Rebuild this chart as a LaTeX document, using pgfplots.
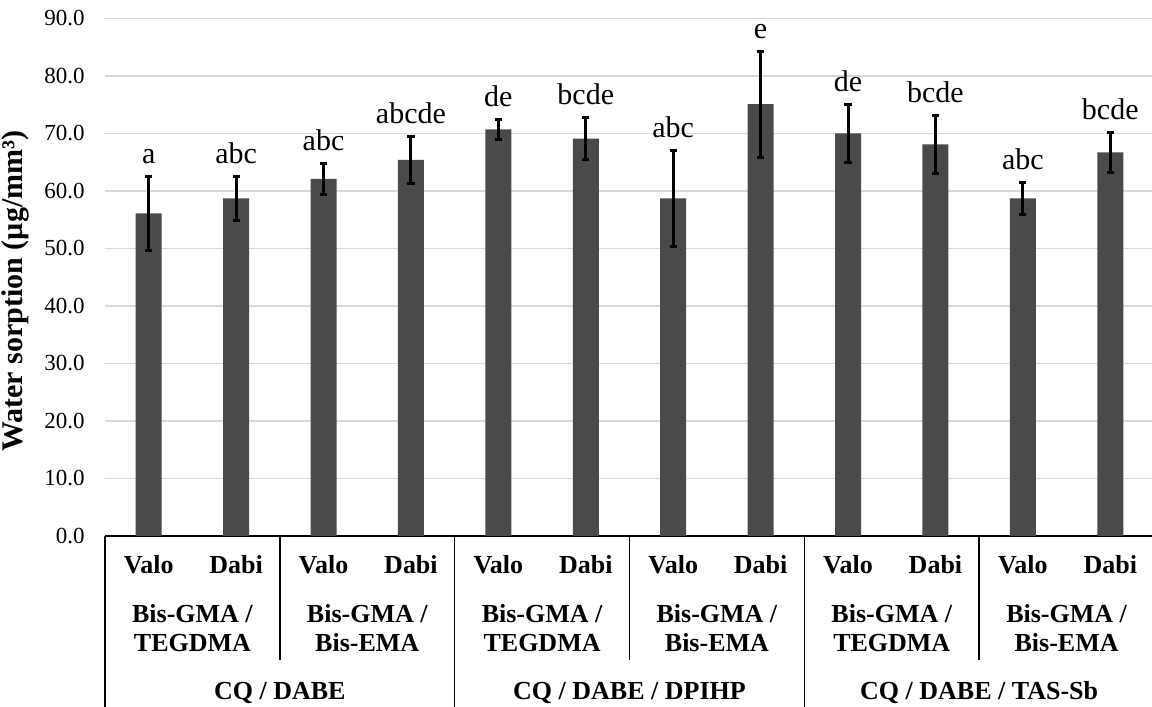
\documentclass[border=0pt]{standalone}
\usepackage{fontspec}
\setmainfont{Liberation Serif}
\usepackage{pgfplots}
\usepackage{pgfplotstable}
\pgfplotsset{compat=1.18}

\definecolor{barcol}{RGB}{74,74,74}
\definecolor{gridcol}{RGB}{217,217,217}

% mean, SD and letter group per bar
\pgfplotstableread{
x  y     err  lab
0  56.1  6.4  a
1  58.7  3.9  abc
2  62.1  2.7  abc
3  65.4  4.1  abcde
4  70.7  1.7  de
5  69.1  3.7  bcde
6  58.7  8.4  abc
7  75.1  9.2  e
8  70.0  5.1  de
9  68.1  5.0  bcde
10 58.7  2.8  abc
11 66.7  3.5  bcde
}\sorption

\begin{document}
\begin{tikzpicture}
\begin{axis}[
    name=ax,
    scale only axis,
    width=524.5pt, height=258.75pt,
    xmin=-0.5, xmax=11.5,
    ymin=0, ymax=90,
    ytick={0,10,...,90},
    xtick={0,...,11},
    xticklabels={Valo,Dabi,Valo,Dabi,Valo,Dabi,Valo,Dabi,Valo,Dabi,Valo,Dabi},
    xticklabel style={font=\fontsize{13}{15}\selectfont\bfseries, anchor=base, yshift=-19pt, inner sep=0pt},
    yticklabel style={font=\fontsize{11.5}{13}\selectfont, anchor=east, xshift=-10pt, inner sep=0pt,
        /pgf/number format/.cd, fixed, fixed zerofill, precision=1, assume math mode=true},
    major tick length=0pt,
    axis x line*=bottom,
    axis y line*=left,
    y axis line style={draw=none},
    x axis line style={black, line width=0.75pt},
    ymajorgrids,
    grid style={gridcol, line width=0.75pt},
    ylabel={Water sorption (µg/mm³)},
    every axis y label/.style={at={(axis description cs:-0.0858,0.473)}, rotate=90, anchor=center,
        font=\fontsize{15}{17}\selectfont\bfseries},
    clip=false,
]
\addplot[ybar, bar width=13pt, fill=barcol, draw=none,
    error bars/.cd, y dir=both, y explicit,
    error bar style={black, line width=1.5pt},
    error mark options={rotate=90, mark size=1.8pt, line width=1.5pt, black}]
    table[x=x, y=y, y error=err] {\sorption};

\addplot[draw=none, mark=none, nodes near coords, point meta=explicit symbolic,
    every node near coord/.append style={font=\fontsize{15}{17}\selectfont, anchor=base, yshift=6.5pt, inner sep=0pt}]
    table[x=x, y expr=\thisrow{y}+\thisrow{err}, meta=lab] {\sorption};

% separators of the category table
\draw[line width=0.75pt] (axis cs:1.5,0) -- ([yshift=-62pt]axis cs:1.5,0);
\draw[line width=0.75pt] (axis cs:5.5,0) -- ([yshift=-62pt]axis cs:5.5,0);
\draw[line width=0.75pt] (axis cs:9.5,0) -- ([yshift=-62pt]axis cs:9.5,0);
\draw[line width=0.75pt] (axis cs:-0.5,0) -- ([yshift=-85.5pt]axis cs:-0.5,0);
\draw[line width=0.75pt] (axis cs:3.5,0) -- ([yshift=-85.5pt]axis cs:3.5,0);
\draw[line width=0.75pt] (axis cs:7.5,0) -- ([yshift=-85.5pt]axis cs:7.5,0);

\tikzset{grp/.style={font=\fontsize{13}{15}\selectfont\bfseries, anchor=base, inner sep=0pt}}
\node[grp, yshift=-43.5pt] at (axis cs:0.5,0) {Bis-GMA /};
\node[grp, yshift=-57.8pt] at (axis cs:0.5,0) {TEGDMA};
\node[grp, yshift=-43.5pt] at (axis cs:2.5,0) {Bis-GMA /};
\node[grp, yshift=-57.8pt] at (axis cs:2.5,0) {Bis-EMA};
\node[grp, yshift=-43.5pt] at (axis cs:4.5,0) {Bis-GMA /};
\node[grp, yshift=-57.8pt] at (axis cs:4.5,0) {TEGDMA};
\node[grp, yshift=-43.5pt] at (axis cs:6.5,0) {Bis-GMA /};
\node[grp, yshift=-57.8pt] at (axis cs:6.5,0) {Bis-EMA};
\node[grp, yshift=-43.5pt] at (axis cs:8.5,0) {Bis-GMA /};
\node[grp, yshift=-57.8pt] at (axis cs:8.5,0) {TEGDMA};
\node[grp, yshift=-43.5pt] at (axis cs:10.5,0) {Bis-GMA /};
\node[grp, yshift=-57.8pt] at (axis cs:10.5,0) {Bis-EMA};

\node[grp, yshift=-82pt] at (axis cs:1.5,0) {CQ / DABE};
\node[grp, yshift=-82pt] at (axis cs:5.5,0) {CQ / DABE / DPIHP};
\node[grp, yshift=-82pt] at (axis cs:9.5,0) {CQ / DABE / TAS-Sb};
\end{axis}
\pgfresetboundingbox
\path ([xshift=-52.5pt, yshift=-85.5pt]ax.south west) rectangle ([xshift=-1pt, yshift=9.25pt]ax.north east);
\end{tikzpicture}
\end{document}
